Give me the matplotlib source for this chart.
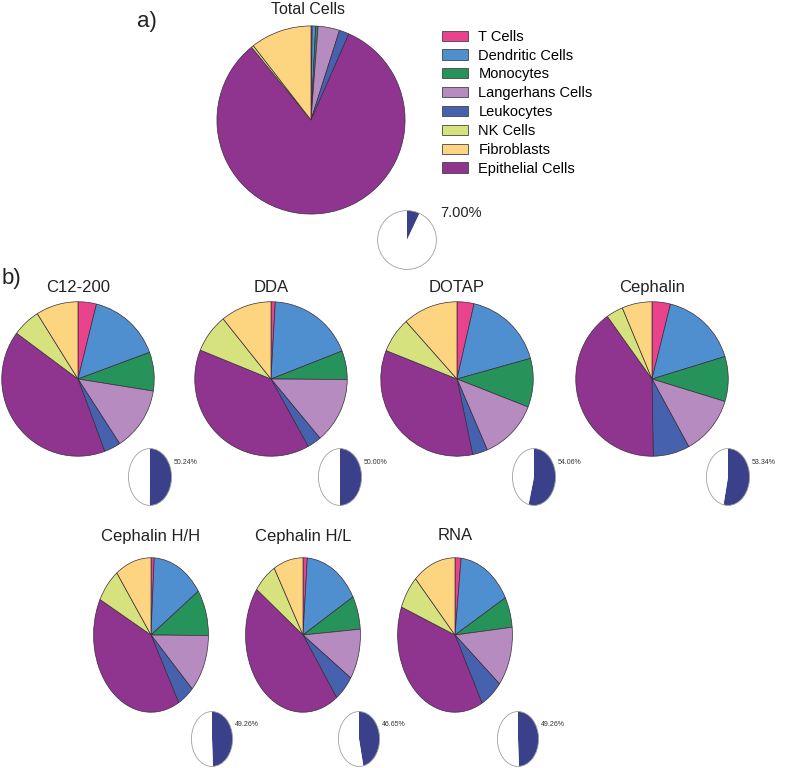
import matplotlib
matplotlib.use("Agg")
import matplotlib.pyplot as plt
from matplotlib.patches import Patch

plt.rcParams['font.family'] = ['Liberation Sans', 'DejaVu Sans']

# slice order as drawn (clockwise from the top)
cell_types = ['T Cells', 'Dendritic Cells', 'Monocytes', 'Langerhans Cells',
              'Leukocytes', 'Epithelial Cells', 'NK Cells', 'Fibroblasts']
legend_order = ['T Cells', 'Dendritic Cells', 'Monocytes', 'Langerhans Cells',
                'Leukocytes', 'NK Cells', 'Fibroblasts', 'Epithelial Cells']
cell_colors = {'T Cells': '#e8438c', 'Dendritic Cells': '#4f8fd0',
               'Monocytes': '#26935b', 'Langerhans Cells': '#b58bc0',
               'Leukocytes': '#4661ad', 'Epithelial Cells': '#8f3590',
               'NK Cells': '#d6e27e', 'Fibroblasts': '#fdd480'}

total_cells = [0.2, 0.6, 0.4, 3.7, 1.7, 82.5, 0.4, 10.5]
total_immune = 7.00

formulations = ['C12-200', 'DDA', 'DOTAP', 'Cephalin',
                'Cephalin H/H', 'Cephalin H/L', 'RNA']
c12_200 = [3.9, 15.5, 8.1, 13.3, 3.5, 40.8, 5.94, 8.96]
dda = [0.9, 18.2, 6.0, 13.8, 3.0, 39.2, 8.1, 10.8]
dotap = [3.6, 17.1, 10.2, 12.6, 3.2, 34.3, 7.36, 11.64]
cephalin = [3.9, 16.4, 9.4, 12.3, 7.74, 40.3, 3.6, 6.36]
cephalin_hh = [0.9, 14.5, 9.7, 12.2, 4.7, 40.6, 7.26, 10.14]
cephalin_hl = [1.2, 15.6, 7.0, 10.6, 5.65, 45.0, 6.6, 8.35]
rna = [1.7, 15.3, 6.4, 12.5, 6.3, 38.7, 7.06, 12.04]
immune_pct = [50.24, 50.00, 54.06, 53.34, 49.26, 46.65, 49.26]

W, H = 786, 768
fig = plt.figure(figsize=(W / 100, H / 100), dpi=100)


def pie_axes(cx, cy, rx, ry):
    # axes placed in pixel units, spanning the ellipse exactly
    ax = fig.add_axes([(cx - rx) / W, 1 - (cy + ry) / H, 2 * rx / W, 2 * ry / H])
    return ax


def big_pie(cx, cy, rx, ry, values):
    ax = pie_axes(cx, cy, rx, ry)
    ax.pie(values, colors=[cell_colors[c] for c in cell_types], startangle=90,
           counterclock=False, radius=1,
           wedgeprops=dict(edgecolor='#3b2b3b', linewidth=0.5))
    ax.set_xlim(-1.01, 1.01)
    ax.set_ylim(-1.01, 1.01)
    ax.set_aspect('auto')
    return ax


def small_pie(cx, cy, rx, ry, pct):
    ax = pie_axes(cx, cy, rx, ry)
    ax.pie([pct, 100 - pct], colors=['#3b408a', 'white'], startangle=90,
           counterclock=False, radius=1,
           wedgeprops=dict(edgecolor='none', linewidth=0))
    ax.add_patch(plt.Circle((0, 0), 1, fill=False, edgecolor='#a0a0a0', linewidth=0.6))
    ax.set_xlim(-1.02, 1.02)
    ax.set_ylim(-1.02, 1.02)
    ax.set_aspect('auto')


def label(x, y, s, fs, ha='center', color='#222222'):
    fig.text(x / W, 1 - y / H, s, fontsize=fs, ha=ha, va='center', color=color)


# a) total cells
label(147, 22, 'a)', 16)
label(308, 9, 'Total Cells', 11.5)
big_pie(311, 120, 95, 95, total_cells)
small_pie(407, 240, 30, 30, total_immune)
label(440, 213, f'{total_immune:.2f}%', 10.5, ha='left')

handles = [Patch(facecolor=cell_colors[c], edgecolor='#444444', linewidth=0.6)
           for c in legend_order]
fig.legend(handles, legend_order, loc='upper left',
           bbox_to_anchor=(436 / W, 1 - 24 / H), frameon=False, fontsize=10.5,
           handlelength=1.8, handleheight=0.7, handletextpad=0.7,
           labelspacing=0.33, borderaxespad=0)

# b) formulations
label(11, 278, 'b)', 16)
datasets = [c12_200, dda, dotap, cephalin, cephalin_hh, cephalin_hl, rna]
row1_x = [78, 271, 457, 652]
row1_small_x = [150, 340, 534, 728]
row2_x = [151, 303, 455]
row2_small_x = [212, 359, 518]

for i in range(4):
    label(row1_x[i], 287, formulations[i], 12)
    big_pie(row1_x[i], 379, 77, 78, datasets[i])
    small_pie(row1_small_x[i], 477, 22, 29, immune_pct[i])
    label(row1_small_x[i] + 24, 462, f'{immune_pct[i]:.2f}%', 5, ha='left', color='#333333')

for j in range(3):
    i = j + 4
    label(row2_x[j], 536, formulations[i], 12)
    big_pie(row2_x[j], 635, 58, 78, datasets[i])
    small_pie(row2_small_x[j], 739, 21, 28, immune_pct[i])
    label(row2_small_x[j] + 23, 725, f'{immune_pct[i]:.2f}%', 5, ha='left', color='#333333')

fig.savefig('out.png', dpi=100)
